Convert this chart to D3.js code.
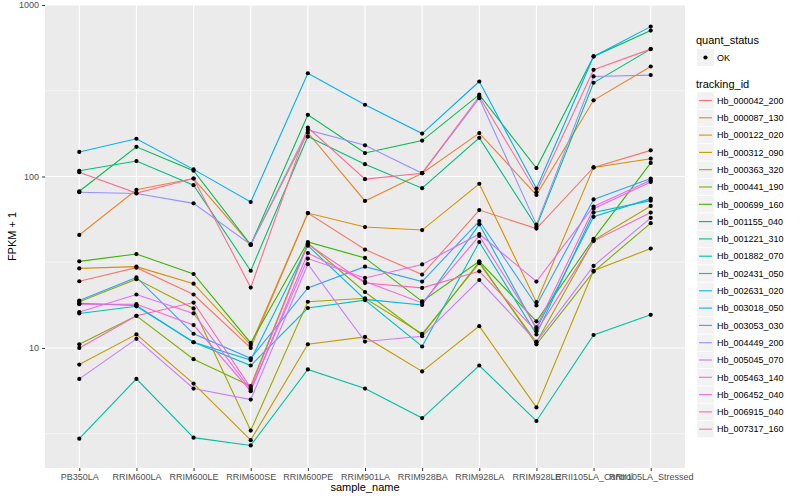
<!DOCTYPE html>
<html>
<head>
<meta charset="utf-8">
<script src="https://cdn.jsdelivr.net/npm/d3@7"></script>
<style>
  body { margin: 0; background: #fff; }
  svg { font-family: "Liberation Sans", Arial, Helvetica, sans-serif; }
</style>
</head>
<body>
<svg width="800" height="500"></svg>
<script>
// sample names on the x axis
const categories = ["PB350LA", "RRIM600LA", "RRIM600LE", "RRIM600SE", "RRIM600PE", "RRIM901LA",
  "RRIM928BA", "RRIM928LA", "RRIM928LE", "RRII105LA_Control", "RRII105LA_Stressed"];

const trackingIds = ["Hb_000042_200", "Hb_000087_130", "Hb_000122_020", "Hb_000312_090", "Hb_000363_320",
  "Hb_000441_190", "Hb_000699_160", "Hb_001155_040", "Hb_001221_310", "Hb_001882_070",
  "Hb_002431_050", "Hb_002631_020", "Hb_003018_050", "Hb_003053_030", "Hb_004449_200",
  "Hb_005045_070", "Hb_005463_140", "Hb_006452_040", "Hb_006915_040", "Hb_007317_160"];

// FPKM + 1, one value per sample
const hb_000042_200 = [24.5, 29.4, 20.5, 10.0, 61.2, 37.5, 26.8, 63.7, 49.7, 113, 142];
const hb_000087_130 = [45.6, 83.6, 97.3, 40, 180, 72, 104.5, 179, 78, 278, 438];
const hb_000122_020 = [29.1, 29.8, 23.7, 10.4, 61.2, 50.7, 48.7, 90.7, 18.5, 113, 127];
const hb_000312_090 = [8.0, 12.0, 6.2, 2.9, 10.5, 11.6, 7.3, 13.4, 4.5, 28.2, 38];
const hb_000363_320 = [18.6, 25.2, 17.0, 3.3, 18.6, 19.5, 12.1, 31.2, 10.8, 42.4, 67.3];
const hb_000441_190 = [10.5, 15.4, 8.6, 6.0, 40.8, 21.2, 11.9, 31.8, 10.5, 27.9, 53.4];
const hb_000699_160 = [32.0, 35.3, 27.0, 10.7, 41.5, 33.5, 18.7, 32.0, 14.3, 43.3, 120];
const hb_001155_040 = [82, 149, 108, 40, 229, 137, 162, 300, 112, 501, 709];
const hb_001221_310 = [108, 123, 89, 28.2, 171, 118, 85.5, 168, 51, 352, 553];
const hb_001882_070 = [2.96, 6.6, 3.0, 2.7, 7.5, 5.8, 3.9, 7.9, 3.75, 11.9, 15.6];
const hb_002431_050 = [15.9, 17.5, 10.8, 7.9, 17.1, 19.0, 10.2, 41.5, 12.0, 61.6, 72.3];
const hb_002631_020 = [18.2, 17.7, 10.8, 8.5, 39.5, 19.2, 17.8, 52.6, 12.9, 58.2, 74.3];
const hb_003018_050 = [139, 166, 110, 71, 400, 262, 178, 358, 85, 501, 748];
const hb_003053_030 = [18.9, 25.8, 12.1, 8.7, 22.4, 29.8, 24.4, 55.0, 17.7, 73.5, 97.3];
const hb_004449_200 = [81, 79.6, 69.7, 40, 187, 152, 104.5, 286, 52.4, 383, 390];
const hb_005045_070 = [6.6, 11.3, 5.8, 5.0, 30.8, 10.9, 11.7, 24.9, 10.9, 30.1, 57.3];
const hb_005463_140 = [16.2, 20.5, 15.9, 5.7, 33.2, 25.6, 30.7, 46.2, 24.4, 66.8, 95];
const hb_006452_040 = [18.0, 18.0, 13.6, 5.6, 35.8, 24.4, 18.3, 45.0, 13.2, 64.9, 93];
const hb_006915_040 = [10.0, 15.4, 18.4, 5.85, 40.3, 23.9, 22.4, 28.0, 12.5, 42.0, 61.6];
const hb_007317_160 = [106, 80, 97.3, 22.5, 193, 96.5, 104.5, 293, 81, 419, 553];

const seriesValues = [hb_000042_200, hb_000087_130, hb_000122_020, hb_000312_090, hb_000363_320,
  hb_000441_190, hb_000699_160, hb_001155_040, hb_001221_310, hb_001882_070,
  hb_002431_050, hb_002631_020, hb_003018_050, hb_003053_030, hb_004449_200,
  hb_005045_070, hb_005463_140, hb_006452_040, hb_006915_040, hb_007317_160];

const yTicks = [10, 100, 1000];
const yMinor = [Math.pow(10, 0.5), Math.pow(10, 1.5), Math.pow(10, 2.5)];
const quantStatus = ["OK"];

// ggplot default hue palette for 20 levels
const palette = ["#F8766D", "#EA8331", "#D89000", "#C09B00", "#A3A500", "#7CAE00", "#39B600", "#00BB4E",
  "#00BF7D", "#00C1A3", "#00BFC4", "#00BAE0", "#00B0F6", "#35A2FF", "#9590FF", "#C77CFF",
  "#E76BF3", "#FA62DB", "#FF62BC", "#FF6C91"];

const series = trackingIds.map((id, i) => ({
  id: id,
  points: categories.map((c, j) => ({ sample: c, value: seriesValues[i][j] }))
}));

const svg = d3.select("svg");
const panel = { left: 45, right: 685, top: 5, bottom: 468 };

const color = d3.scaleOrdinal().domain(trackingIds).range(palette);

const x = d3.scalePoint()
  .domain(categories)
  .range([panel.left, panel.right])
  .padding(0.6);

const y = d3.scaleLog()
  .domain([Math.pow(10, 0.3), 1000])
  .range([panel.bottom, panel.top]);

// panel background
svg.append("rect")
  .attr("x", panel.left).attr("y", panel.top)
  .attr("width", panel.right - panel.left)
  .attr("height", panel.bottom - panel.top)
  .attr("fill", "#EBEBEB");

// grid
svg.append("g").selectAll("line")
  .data(yMinor).enter().append("line")
  .attr("x1", panel.left).attr("x2", panel.right)
  .attr("y1", d => y(d)).attr("y2", d => y(d))
  .attr("stroke", "#fff").attr("stroke-width", 0.55);

svg.append("g").selectAll("line")
  .data(yTicks).enter().append("line")
  .attr("x1", panel.left).attr("x2", panel.right)
  .attr("y1", d => y(d)).attr("y2", d => y(d))
  .attr("stroke", "#fff").attr("stroke-width", 1.1);

svg.append("g").selectAll("line")
  .data(categories).enter().append("line")
  .attr("x1", d => x(d)).attr("x2", d => x(d))
  .attr("y1", panel.top).attr("y2", panel.bottom)
  .attr("stroke", "#fff").attr("stroke-width", 1.1);

// lines
const line = d3.line()
  .x(d => x(d.sample))
  .y(d => y(d.value));

svg.append("g").selectAll("path")
  .data(series).enter().append("path")
  .attr("d", d => line(d.points))
  .attr("fill", "none")
  .attr("stroke", d => color(d.id))
  .attr("stroke-width", 1.1);

// points
svg.append("g").selectAll("circle")
  .data(series.flatMap(s => s.points)).enter().append("circle")
  .attr("cx", d => x(d.sample))
  .attr("cy", d => y(d.value))
  .attr("r", 2.1)
  .attr("fill", "#000");

// axes
const xAxis = d3.axisBottom(x).tickSize(3).tickPadding(3);
const gx = svg.append("g")
  .attr("transform", `translate(0,${panel.bottom})`)
  .call(xAxis);
gx.select(".domain").remove();
gx.selectAll("line").attr("stroke", "#333");
gx.selectAll("text").attr("fill", "#4D4D4D").attr("font-size", 9);

const yAxis = d3.axisLeft(y).tickValues(yTicks).tickFormat(d3.format("d")).tickSize(3).tickPadding(3);
const gy = svg.append("g")
  .attr("transform", `translate(${panel.left},0)`)
  .call(yAxis);
gy.select(".domain").remove();
gy.selectAll("line").attr("stroke", "#333");
gy.selectAll("text").attr("fill", "#4D4D4D").attr("font-size", 9);

svg.append("text")
  .attr("x", (panel.left + panel.right) / 2)
  .attr("y", 491)
  .attr("text-anchor", "middle")
  .attr("font-size", 11)
  .text("sample_name");

svg.append("text")
  .attr("transform", `translate(16,${(panel.top + panel.bottom) / 2}) rotate(-90)`)
  .attr("text-anchor", "middle")
  .attr("font-size", 11)
  .text("FPKM + 1");

// legends
const legend = svg.append("g").attr("transform", "translate(696,0)");

legend.append("text").attr("x", 0).attr("y", 44).attr("font-size", 11).text("quant_status");
const qs = legend.selectAll(".qs").data(quantStatus).enter().append("g")
  .attr("transform", (d, i) => `translate(1,${49 + i * 17.3})`);
qs.append("rect").attr("width", 17).attr("height", 17).attr("fill", "#F2F2F2");
qs.append("circle").attr("cx", 8.5).attr("cy", 8.5).attr("r", 2.1).attr("fill", "#000");
qs.append("text").attr("x", 20).attr("y", 11.5).attr("font-size", 9).text(d => d);

legend.append("text").attr("x", 0).attr("y", 88).attr("font-size", 11).text("tracking_id");
const keys = legend.selectAll(".key").data(trackingIds).enter().append("g")
  .attr("transform", (d, i) => `translate(1,${92 + i * 17.3})`);
keys.append("rect").attr("width", 17).attr("height", 17).attr("fill", "#F2F2F2")
  .attr("stroke", "#fff").attr("stroke-width", 0.5);
keys.append("line")
  .attr("x1", 2).attr("x2", 15).attr("y1", 8.5).attr("y2", 8.5)
  .attr("stroke", d => color(d)).attr("stroke-width", 1.1);
keys.append("text").attr("x", 20).attr("y", 11.8).attr("font-size", 9).text(d => d);
</script>
</body>
</html>
